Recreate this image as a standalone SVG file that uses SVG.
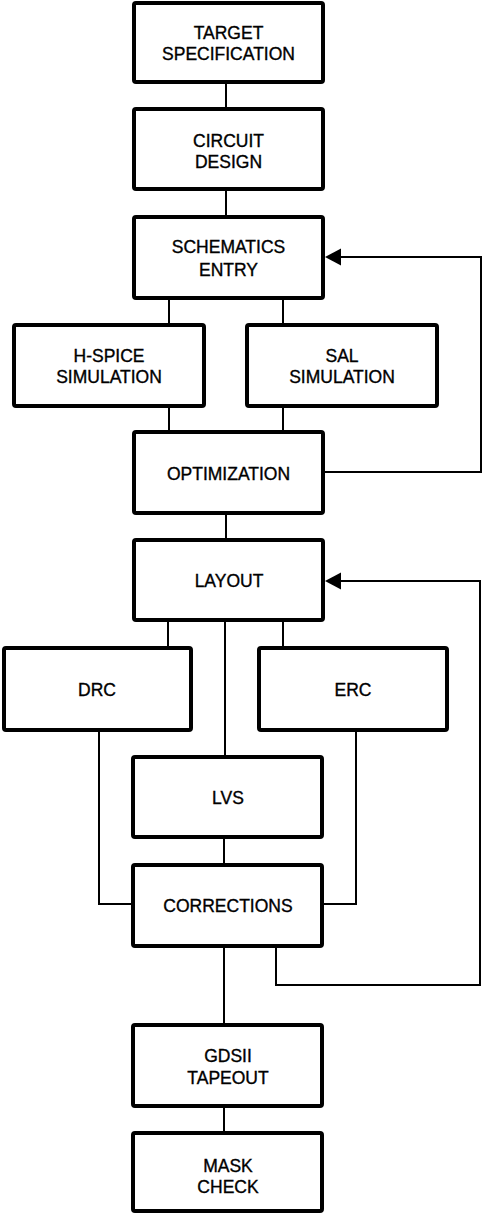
<svg xmlns="http://www.w3.org/2000/svg" width="482" height="1213" viewBox="0 0 482 1213">
<style>
.box{fill:#fff;stroke:#000;stroke-width:4;}
.ln{fill:none;stroke:#000;stroke-width:2;}
.t{font-family:"Liberation Sans",Arial,sans-serif;font-size:17.5px;text-anchor:middle;fill:#000;stroke:#000;stroke-width:0.35;}
</style>
<rect width="482" height="1213" fill="#fff"/>
<g id="connectors">
<path class="ln" d="M226,82V109M226,189V217M169,298V325M169,406V432M283,298V325M283,406V432M226,513V540M168,620V648M283,620V648M225,620V757M224,837V865M224,946V1025M224,1106V1133"/>
<path class="ln" d="M99,730V904H133M356,730V904H322"/>
<path class="ln" d="M323,472H481V257H338"/>
<polygon points="325,257 341,248.5 341,265.5" fill="#000"/>
<path class="ln" d="M276,946V985H480V581H338"/>
<polygon points="325,581 341,572.5 341,589.5" fill="#000"/>
</g>
<g id="target"><rect class="box" x="134" y="3" width="189" height="79" rx="2"/><text class="t" x="228.5" y="39">TARGET</text><text class="t" x="228.5" y="60">SPECIFICATION</text></g>
<g id="circuit"><rect class="box" x="134" y="109" width="189" height="80" rx="2"/><text class="t" x="228.5" y="147">CIRCUIT</text><text class="t" x="228.5" y="168">DESIGN</text></g>
<g id="schematics"><rect class="box" x="134" y="217" width="189" height="81" rx="2"/><text class="t" x="228.5" y="253">SCHEMATICS</text><text class="t" x="228.5" y="275.5">ENTRY</text></g>
<g id="hspice"><rect class="box" x="14" y="325" width="190" height="81" rx="2"/><text class="t" x="109" y="362">H-SPICE</text><text class="t" x="109" y="383">SIMULATION</text></g>
<g id="sal"><rect class="box" x="247" y="325" width="190" height="81" rx="2"/><text class="t" x="342" y="362">SAL</text><text class="t" x="342" y="383">SIMULATION</text></g>
<g id="optimization"><rect class="box" x="134" y="432" width="189" height="81" rx="2"/><text class="t" x="228.5" y="479.5">OPTIMIZATION</text></g>
<g id="layout"><rect class="box" x="134" y="540" width="189" height="80" rx="2"/><text class="t" x="229" y="587">LAYOUT</text></g>
<g id="drc"><rect class="box" x="4" y="648" width="187" height="82" rx="2"/><text class="t" x="97" y="696">DRC</text></g>
<g id="erc"><rect class="box" x="259" y="648" width="188" height="82" rx="2"/><text class="t" x="353" y="696">ERC</text></g>
<g id="lvs"><rect class="box" x="133" y="757" width="189" height="80" rx="2"/><text class="t" x="228" y="804">LVS</text></g>
<g id="corrections"><rect class="box" x="133" y="865" width="189" height="81" rx="2"/><text class="t" x="228" y="912">CORRECTIONS</text></g>
<g id="gdsii"><rect class="box" x="133" y="1025" width="189" height="81" rx="2"/><text class="t" x="228" y="1062">GDSII</text><text class="t" x="228" y="1084">TAPEOUT</text></g>
<g id="mask"><rect class="box" x="133" y="1133" width="189" height="78" rx="2"/><text class="t" x="228" y="1172">MASK</text><text class="t" x="228" y="1193">CHECK</text></g>
</svg>
